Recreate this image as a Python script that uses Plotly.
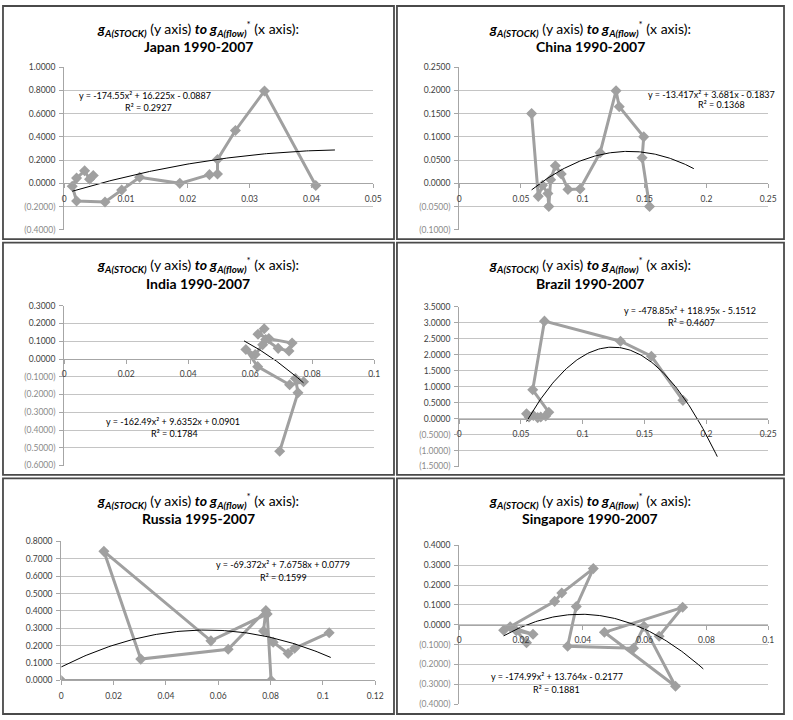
import numpy as np
import plotly.graph_objects as go

W, H = 793, 720

# ---------------- data ----------------
titles = ["Japan 1990-2007", "China 1990-2007", "India 1990-2007",
          "Brazil 1990-2007", "Russia 1995-2007", "Singapore 1990-2007"]

# Japan
japan_x = [0.0047, 0.0041, 0.0033, 0.0020, 0.0013, 0.0020, 0.0066, 0.0093,
           0.0122, 0.0187, 0.0235, 0.0248, 0.0248, 0.0277, 0.0324, 0.0407]
japan_y = [0.068, 0.035, 0.108, 0.045, -0.025, -0.152, -0.160, -0.058,
           0.052, 0.000, 0.075, 0.080, 0.205, 0.455, 0.795, -0.018]
japan_fit = [-174.55, 16.225, -0.0887]
japan_r2 = 0.2927
japan_fit_span = [0.0013, 0.0438]
japan_xticks = [0, 0.01, 0.02, 0.03, 0.04, 0.05]
japan_xlabels = ["0", "0.01", "0.02", "0.03", "0.04", "0.05"]
japan_yticks = [-0.4, -0.2, 0.0, 0.2, 0.4, 0.6, 0.8, 1.0]
japan_ylabels = ["(0.4000)", "(0.2000)", "0.0000", "0.2000", "0.4000",
                 "0.6000", "0.8000", "1.0000"]

# China
china_x = [0.0586, 0.0640, 0.0674, 0.0718, 0.0725, 0.0740, 0.0778, 0.0826,
           0.0880, 0.0978, 0.1140, 0.1269, 0.1295, 0.1493, 0.1480, 0.1540]
china_y = [0.150, -0.028, -0.004, -0.022, -0.050, 0.008, 0.038, 0.020,
           -0.013, -0.012, 0.066, 0.199, 0.165, 0.100, 0.055, -0.050]
china_fit = [-13.417, 3.681, -0.1837]
china_r2 = 0.1368
china_fit_span = [0.0586, 0.1898]
china_xticks = [0, 0.05, 0.1, 0.15, 0.2, 0.25]
china_xlabels = ["0", "0.05", "0.1", "0.15", "0.2", "0.25"]
china_yticks = [-0.1, -0.05, 0.0, 0.05, 0.1, 0.15, 0.2, 0.25]
china_ylabels = ["(0.1000)", "(0.0500)", "0.0000", "0.0500", "0.1000",
                 "0.1500", "0.2000", "0.2500"]

# India
india_x = [0.0645, 0.0625, 0.0660, 0.0735, 0.0725, 0.0690, 0.0650, 0.0640,
           0.0616, 0.0586, 0.0624, 0.0727, 0.0772, 0.0746, 0.0754, 0.0695]
india_y = [0.170, 0.140, 0.115, 0.090, 0.045, 0.060, 0.110, 0.080,
           0.025, 0.054, -0.043, -0.145, -0.128, -0.110, -0.190, -0.520]
india_fit = [-162.49, 9.6352, 0.0901]
india_r2 = 0.1784
india_fit_span = [0.0580, 0.0772]
india_xticks = [0, 0.02, 0.04, 0.06, 0.08, 0.1]
india_xlabels = ["0", "0.02", "0.04", "0.06", "0.08", "0.1"]
india_yticks = [-0.6, -0.5, -0.4, -0.3, -0.2, -0.1, 0.0, 0.1, 0.2, 0.3]
india_ylabels = ["(0.6000)", "(0.5000)", "(0.4000)", "(0.3000)", "(0.2000)",
                 "(0.1000)", "0.0000", "0.1000", "0.2000", "0.3000"]

# Brazil
brazil_x = [0.0545, 0.0565, 0.0600, 0.0635, 0.0660, 0.0700, 0.0725, 0.0595,
            0.0690, 0.1305, 0.1555, 0.1810]
brazil_y = [0.150, 0.050, 0.100, 0.030, 0.050, 0.080, 0.200, 0.900,
            3.050, 2.420, 1.950, 0.570]
brazil_fit = [-478.85, 118.95, -5.1512]
brazil_r2 = 0.4607
brazil_fit_span = [0.0545, 0.2088]
brazil_xticks = [0, 0.05, 0.1, 0.15, 0.2, 0.25]
brazil_xlabels = ["0", "0.05", "0.1", "0.15", "0.2", "0.25"]
brazil_yticks = [-1.5, -1.0, -0.5, 0.0, 0.5, 1.0, 1.5, 2.0, 2.5, 3.0, 3.5]
brazil_ylabels = ["(1.5000)", "(1.0000)", "(0.5000)", "0.0000", "0.5000",
                  "1.0000", "1.5000", "2.0000", "2.5000", "3.0000", "3.5000"]

# Russia
russia_x = [0.0000, 0.0802, 0.0787, 0.0572, 0.0163, 0.0304, 0.0638, 0.0782,
            0.0773, 0.0810, 0.0867, 0.0892, 0.1024]
russia_y = [0.000, 0.000, 0.383, 0.228, 0.743, 0.123, 0.180, 0.403,
            0.285, 0.220, 0.155, 0.185, 0.275]
russia_fit = [-69.372, 7.6758, 0.0779]
russia_r2 = 0.1599
russia_fit_span = [0.0, 0.1030]
russia_xticks = [0, 0.02, 0.04, 0.06, 0.08, 0.1, 0.12]
russia_xlabels = ["0", "0.02", "0.04", "0.06", "0.08", "0.1", "0.12"]
russia_yticks = [0.0, 0.1, 0.2, 0.3, 0.4, 0.5, 0.6, 0.7, 0.8]
russia_ylabels = ["0.0000", "0.1000", "0.2000", "0.3000", "0.4000",
                  "0.5000", "0.6000", "0.7000", "0.8000"]

# Singapore
singapore_x = [0.0218, 0.0185, 0.0239, 0.0165, 0.0144, 0.0309, 0.0332, 0.0434,
               0.0379, 0.0351, 0.0564, 0.0598, 0.0700, 0.0470, 0.0723, 0.0647]
singapore_y = [-0.090, -0.030, -0.048, -0.010, -0.028, 0.118, 0.160, 0.283,
               0.092, -0.108, -0.118, -0.008, -0.310, -0.038, 0.088, -0.058]
singapore_fit = [-174.99, 13.764, -0.2177]
singapore_r2 = 0.1881
singapore_fit_span = [0.0144, 0.0790]
singapore_xticks = [0, 0.02, 0.04, 0.06, 0.08, 0.1]
singapore_xlabels = ["0", "0.02", "0.04", "0.06", "0.08", "0.1"]
singapore_yticks = [-0.4, -0.3, -0.2, -0.1, 0.0, 0.1, 0.2, 0.3, 0.4]
singapore_ylabels = ["(0.4000)", "(0.3000)", "(0.2000)", "(0.1000)", "0.0000",
                     "0.1000", "0.2000", "0.3000", "0.4000"]

# ---------------- styling ----------------
FONT = "Lato"
SERIES = "#a0a0a0"
GRID = "#c4c4c4"
AXIS = "#a6a6a6"
FRAME = "#4a4a4a"
TICK_POS = "#404040"
TICK_NEG = "#8a8a8a"


def fx(p):
    return p / W


def fy(p):
    return 1 - p / H


# frame box (l, t, r, b) and plot area (l, t, r, b) in pixels; label centres
panels = [
    dict(x=japan_x, y=japan_y, fit=japan_fit, r2=japan_r2, span=japan_fit_span,
         xt=japan_xticks, xl=japan_xlabels, yt=japan_yticks, yl=japan_ylabels,
         frame=(1, 1, 397, 237.5), area=(63, 63, 376, 228),
         eq=(145, 91.7), r2at=(148, 104.3)),
    dict(x=china_x, y=china_y, fit=china_fit, r2=china_r2, span=china_fit_span,
         xt=china_xticks, xl=china_xlabels, yt=china_yticks, yl=china_ylabels,
         frame=(400, 1, 792, 237.5), area=(463, 63, 776, 228),
         eq=(719, 90.7), r2at=(729, 101)),
    dict(x=india_x, y=india_y, fit=india_fit, r2=india_r2, span=india_fit_span,
         xt=india_xticks, xl=india_xlabels, yt=india_yticks, yl=india_ylabels,
         frame=(1, 241, 397, 476.5), area=(63, 305, 377, 467),
         eq=(173, 422.3), r2at=(175, 434.7)),
    dict(x=brazil_x, y=brazil_y, fit=brazil_fit, r2=brazil_r2, span=brazil_fit_span,
         xt=brazil_xticks, xl=brazil_xlabels, yt=brazil_yticks, yl=brazil_ylabels,
         frame=(400, 241, 792, 476.5), area=(463, 306, 776, 468),
         eq=(697, 309.7), r2at=(698, 322.3)),
    dict(x=russia_x, y=russia_y, fit=russia_fit, r2=russia_r2, span=russia_fit_span,
         xt=russia_xticks, xl=russia_xlabels, yt=russia_yticks, yl=russia_ylabels,
         frame=(1, 480, 397, 719), area=(60, 544, 378, 685),
         eq=(285, 567.7), r2at=(285, 580.3)),
    dict(x=singapore_x, y=singapore_y, fit=singapore_fit, r2=singapore_r2,
         span=singapore_fit_span,
         xt=singapore_xticks, xl=singapore_xlabels, yt=singapore_yticks,
         yl=singapore_ylabels,
         frame=(400, 480, 792, 719), area=(463, 548, 776, 709),
         eq=(562, 681), r2at=(562, 694.3)),
]

TITLE_LINE1 = ("<b><i>g</i></b><sub><b><i>A(STOCK)</i></b></sub> (y axis) "
               "<b><i>to g</i></b><sub><b><i>A(flow)</i></b></sub><sup>*</sup> (x axis):")


def fmt_eq(c):
    a, b, k = c
    sb = "+" if b >= 0 else "-"
    sk = "+" if k >= 0 else "-"
    return f"y = {a:g}x² {sb} {abs(b):g}x {sk} {abs(k):g}"


fig = go.Figure()
shapes, annotations = [], []
layout_axes = {}

for i, (p, title) in enumerate(zip(panels, titles), start=1):
    xa = "x" if i == 1 else f"x{i}"
    ya = "y" if i == 1 else f"y{i}"
    l, t, r, b = p["area"]
    ymin, ymax = p["yt"][0], p["yt"][-1]
    xmin, xmax = p["xt"][0], p["xt"][-1]

    # observed series
    fig.add_trace(go.Scatter(
        x=p["x"], y=p["y"], xaxis=xa, yaxis=ya, mode="lines+markers",
        line=dict(color=SERIES, width=3),
        marker=dict(symbol="diamond", size=8.5, color=SERIES),
        showlegend=False, hoverinfo="skip"))

    # polynomial trend line from the stated coefficients
    xs = np.linspace(p["span"][0], p["span"][1], 120)
    fig.add_trace(go.Scatter(
        x=xs, y=np.polyval(p["fit"], xs), xaxis=xa, yaxis=ya, mode="lines",
        line=dict(color="#000000", width=1), showlegend=False, hoverinfo="skip"))

    # x axis sits on the y = 0 line
    zero_px = t + (ymax - 0) / (ymax - ymin) * (b - t)
    layout_axes["xaxis" if i == 1 else f"xaxis{i}"] = dict(
        domain=[fx(l), fx(r)], range=[xmin, xmax], anchor="free",
        position=fy(zero_px), showgrid=False, zeroline=False,
        showline=True, linecolor=AXIS, linewidth=1,
        ticks="outside", ticklen=4, tickcolor=AXIS, ticklabelstandoff=3,
        tickvals=p["xt"], ticktext=p["xl"],
        tickfont=dict(family=FONT, size=8.5, color=TICK_POS))

    ytext = [f"<span style='color:{TICK_NEG}'>{s}</span>" if s.startswith("(") else s
             for s in p["yl"]]
    layout_axes["yaxis" if i == 1 else f"yaxis{i}"] = dict(
        domain=[fy(b), fy(t)], range=[ymin, ymax], anchor=xa,
        showgrid=True, gridcolor=GRID, gridwidth=1, zeroline=False,
        showline=True, linecolor=AXIS, linewidth=1,
        ticks="outside", ticklen=4, tickcolor=AXIS, ticklabelstandoff=2,
        tickvals=p["yt"], ticktext=ytext,
        tickfont=dict(family=FONT, size=8.5, color=TICK_POS))

    # panel frame
    fl, ft, fr, fb = p["frame"]
    shapes.append(dict(type="rect", xref="paper", yref="paper",
                       x0=fx(fl), x1=fx(fr), y0=fy(fb), y1=fy(ft),
                       line=dict(color=FRAME, width=1.8), fillcolor="rgba(0,0,0,0)"))

    # titles
    cx = (fl + fr) / 2
    annotations.append(dict(xref="paper", yref="paper", x=fx(cx), y=fy(ft + 22.5),
                            text=TITLE_LINE1, showarrow=False, xanchor="center",
                            yanchor="middle",
                            font=dict(family=FONT, size=14, color="#000000")))
    annotations.append(dict(xref="paper", yref="paper", x=fx(cx), y=fy(ft + 41),
                            text=f"<b>{title}</b>", showarrow=False, xanchor="center",
                            yanchor="middle",
                            font=dict(family=FONT, size=14, color="#000000")))

    # trend equation and R²
    annotations.append(dict(xref="paper", yref="paper", x=fx(p["eq"][0]), y=fy(p["eq"][1]),
                            text=fmt_eq(p["fit"]), showarrow=False, xanchor="center",
                            yanchor="middle",
                            font=dict(family=FONT, size=9, color="#000000")))
    annotations.append(dict(xref="paper", yref="paper", x=fx(p["r2at"][0]), y=fy(p["r2at"][1]),
                            text=f"R² = {p['r2']:.4f}", showarrow=False, xanchor="center",
                            yanchor="middle",
                            font=dict(family=FONT, size=9, color="#000000")))

fig.update_layout(
    width=W, height=H, margin=dict(l=0, r=0, t=0, b=0),
    paper_bgcolor="white", plot_bgcolor="white",
    shapes=shapes, annotations=annotations, **layout_axes)

fig.write_html("out.html")
